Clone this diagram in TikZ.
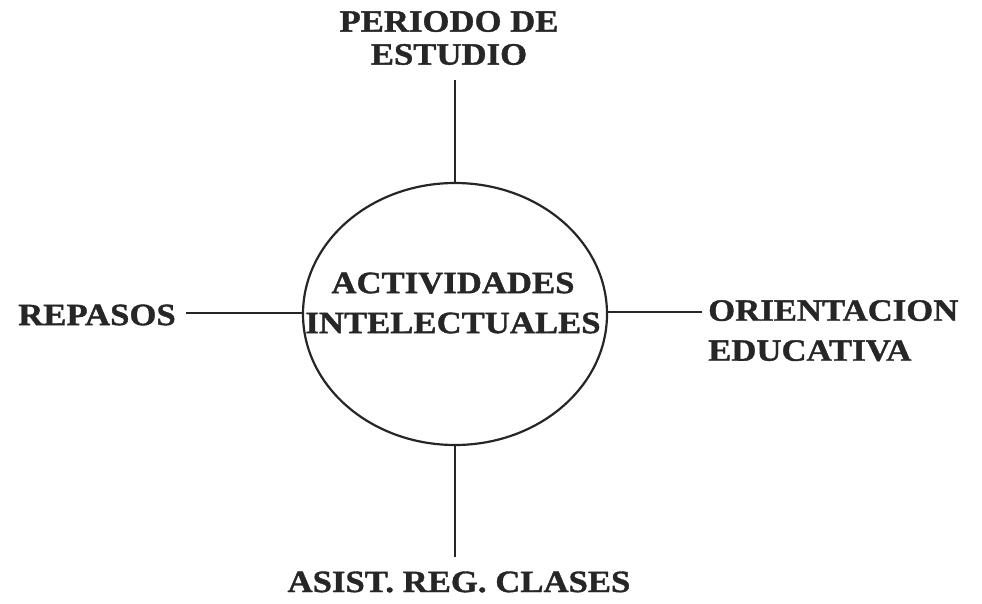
\documentclass[tikz,border=0pt]{standalone}
\usepackage{fontspec}
\setmainfont{Liberation Serif}[FakeStretch=1.12, BoldFeatures={FakeBold=1.2}]
\usetikzlibrary{shapes.geometric}

\begin{document}
\begin{tikzpicture}[x=1pt,y=-1pt,
  rotulo/.style={font=\bfseries\fontsize{31}{40}\selectfont, text=black!85, inner sep=0pt},
  linea/.style={line width=1.8pt, draw=black!85}]
  \useasboundingbox (0,0) rectangle (982,603);
  % circulo central
  \node[ellipse, linea, line width=2.2pt, minimum width=304pt, minimum height=262pt, inner sep=0pt] (centro) at (455,314) {};
  \node[rotulo, align=center] (actividades) at (453,303) {ACTIVIDADES\\INTELECTUALES};

  % rotulos de alrededor
  \node[rotulo, align=center, font=\bfseries\fontsize{31}{33}\selectfont] (periodo) at (449,38) {PERIODO DE\\ESTUDIO};
  \node[rotulo] (repasos) at (97,315) {REPASOS};
  \node[rotulo, align=left, anchor=north west] (orientacion) at (708,300) {ORIENTACION\\EDUCATIVA};
  \node[rotulo] (asist) at (459,582) {ASIST. REG. CLASES};

  \draw[linea] (centro.north) -- ([yshift=-15pt]centro.north |- periodo.south);
  \draw[linea, shorten >=10pt] ([yshift=1pt]centro.west) -- ([yshift=1pt]centro.west -| repasos.east);
  \draw[linea, shorten >=6pt] ([yshift=2pt]centro.east) -- ([yshift=2pt]centro.east -| orientacion.west);
  \draw[linea, shorten >=14pt] (centro.south) -- (centro.south |- asist.north);
\end{tikzpicture}
\end{document}
